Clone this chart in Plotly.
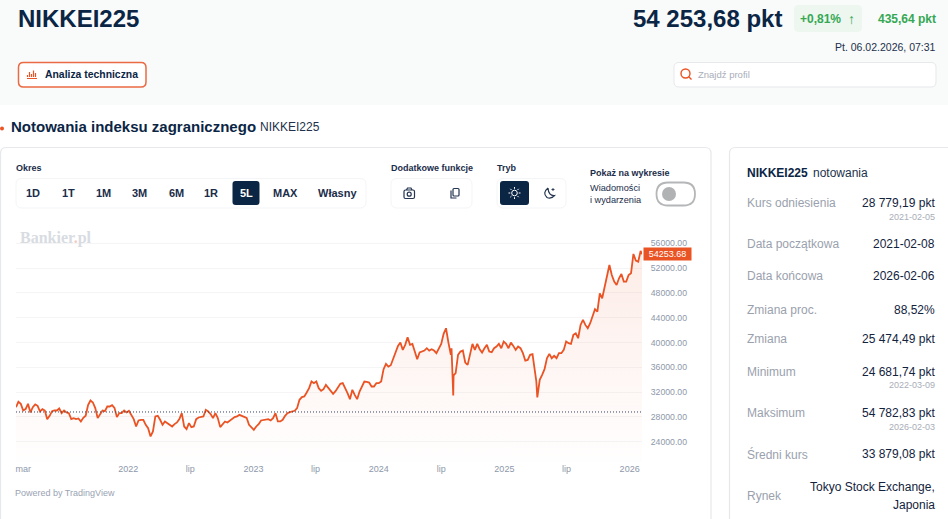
import pandas as pd
import plotly.graph_objects as go

W, H = 948, 519

# ---------- chart data ----------
WEEK_START = "2021-02-08"
WEEKLY_CLOSE = [
    29557, 30417, 30095, 29019, 29234, 30095, 28697, 29557, 29987, 29772,
    28858, 29234, 29019, 27621, 28159, 28912, 29019, 29019, 29342, 28589,
    29019, 28697, 28589, 27621, 27783, 27621, 27729, 27245, 27836, 28159,
    29879, 30632, 30310, 29395, 27783, 28481, 29019, 28912, 29664, 29664,
    29879, 29449, 27944, 28589, 28589, 29019, 28697, 28965, 28320, 27621,
    26438, 27406, 27514, 27514, 26707, 26169, 24825, 25632, 28051, 28159,
    27514, 26707, 27245, 26976, 26707,
    26438, 26815, 27083, 27621, 28589, 26438, 26008, 26976, 26331, 26438,
    27621, 27890, 27944, 28051, 29127, 28858, 28428, 27783, 28589, 27783,
    26331, 26707, 27245, 27083, 27406, 27621, 27944, 28051, 28320, 28159,
    27944, 27836, 26707, 26331, 25900, 26438, 26815, 27406, 27514, 27621,
    27621, 27406, 27783, 28589, 27245, 27245, 27514, 28159, 28589, 28750,
    28804, 28965, 29395, 30740, 31170, 31278, 31923, 32622, 33697, 33428,
    33697, 32622, 32192, 32460, 33159, 32621, 32083, 31707, 32137, 32783,
    33320, 33428, 32729, 31815, 30847, 32352, 31546, 30847, 32083, 32783,
    33696, 33643, 33535, 32890, 32890, 33428, 33428, 33696, 35686, 36546,
    36116, 36331, 37460, 38375, 39450, 39988, 38805, 39611, 40848, 39611,
    39773, 38536, 37299, 38375, 38536, 38697, 39073, 38697, 38912, 38697,
    38267, 39073, 39773, 41386, 42300, 39988, 37998, 31458, 35041, 37998,
    38536, 38697, 36761, 36385, 37998, 39773, 38805, 39773, 38912, 38375,
    39073, 39611, 38536, 38428, 39073, 39342, 39773, 39073, 40149, 39773,
    39073, 39988, 39450, 38805, 39342, 39073, 38267, 37084, 37192, 37998,
    38106, 35578, 31136, 33965, 34772, 35686, 37460, 38159, 37460, 37837,
    37460, 38267, 38267, 38805, 40149,
    39879, 39772, 41224, 41492, 40686, 42837, 43643, 42837, 42299, 43106,
    44074, 45364, 44987, 47945, 47138, 49020, 50902, 52515, 50902, 49827,
    49289, 50364, 51063, 49827, 49827, 50902, 51171, 54290, 53214, 53052,
    54782,
]
EXTRA_DATES = ["2024-07-31", "2024-08-02", "2024-08-06", "2025-04-04", "2025-04-09", "2026-02-06"]
EXTRA_CLOSE = [39073, 35909, 34675, 33780, 32000, 54253.68]
REFERENCE_LEVEL = 28779.19
LAST_LABEL = "54253.68"

X_TICK_DATES = ["2021-03-01", "2022-01-01", "2022-07-01", "2023-01-01", "2023-07-01",
                "2024-01-01", "2024-07-01", "2025-01-01", "2025-07-01", "2026-01-01"]
X_TICK_TEXT = ["mar", "2022", "lip", "2023", "lip", "2024", "lip", "2025", "lip", "2026"]
Y_TICKS = [24000, 28000, 32000, 36000, 40000, 44000, 48000, 52000, 56000]

PERIODS = ["1D", "1T", "1M", "3M", "6M", "1R", "5L", "MAX", "Własny"]
PERIOD_X = [33, 68, 103, 139, 176, 211, 246, 285, 337]

ROW_LABELS = ["Kurs odniesienia", "Data początkowa", "Data końcowa", "Zmiana proc.", "Zmiana",
              "Minimum", "Maksimum", "Średni kurs"]
ROW_VALUES = ["28 779,19 pkt", "2021-02-08", "2026-02-06", "88,52%", "25 474,49 pkt",
              "24 681,74 pkt", "54 782,83 pkt", "33 879,08 pkt"]
ROW_Y = [202.5, 244, 276, 310, 338.7, 371.7, 412.7, 454]
ROW_DATES = ["2021-02-05", "2022-03-09", "2026-02-03"]
ROW_DATES_Y = [216.5, 385.3, 427.3]

# ---------- colours ----------
NAVY = "#0b2545"
ORANGE = "#ea5323"
GREEN = "#34a853"
AXIS = "#8e98aa"
FONT = "Liberation Sans"


def fx(x):
    return x / W


def fy(y):
    return 1 - y / H


shapes, notes = [], []


def path(*cmds, fill=None, line=None, lw=1, layer="below"):
    out = []
    i = 0
    while i < len(cmds):
        c = cmds[i]
        if c == "Z":
            out.append("Z")
            i += 1
            continue
        n = {"M": 2, "L": 2, "Q": 4}[c]
        pts = cmds[i + 1:i + 1 + n]
        coords = " ".join(f"{fx(pts[k]):.5f},{fy(pts[k + 1]):.5f}" for k in range(0, n, 2))
        out.append(f"{c} {coords}")
        i += 1 + n
    shapes.append(dict(type="path", xref="paper", yref="paper", path=" ".join(out),
                       fillcolor=fill or "rgba(0,0,0,0)",
                       line=dict(color=line or "rgba(0,0,0,0)", width=lw if line else 0),
                       layer=layer))


def rr(x0, y0, x1, y1, r, fill=None, line=None, lw=1):
    path("M", x0 + r, y0, "L", x1 - r, y0, "Q", x1, y0, x1, y0 + r, "L", x1, y1 - r,
         "Q", x1, y1, x1 - r, y1, "L", x0 + r, y1, "Q", x0, y1, x0, y1 - r,
         "L", x0, y0 + r, "Q", x0, y0, x0 + r, y0, "Z", fill=fill, line=line, lw=lw)


def circ(cx, cy, r, fill=None, line=None, lw=1):
    shapes.append(dict(type="circle", xref="paper", yref="paper",
                       x0=fx(cx - r), x1=fx(cx + r), y0=fy(cy + r), y1=fy(cy - r),
                       fillcolor=fill or "rgba(0,0,0,0)",
                       line=dict(color=line or "rgba(0,0,0,0)", width=lw if line else 0),
                       layer="below"))


def text(x, y, s, size, color=NAVY, bold=False, anchor="left", family=FONT):
    dx = {"left": -1.2, "right": 1, "center": 0}[anchor]
    notes.append(dict(xref="paper", yref="paper", x=fx(x + dx), y=fy(y), showarrow=False,
                      text=f"<b>{s}</b>" if bold else s, xanchor=anchor, yanchor="middle",
                      font=dict(size=size, color=color, family=family), borderpad=0, align=anchor))


# ---------- page chrome ----------
rr(-10, -10, W + 10, 105, 7, fill="#f9fafa")
text(18, 18.5, "NIKKEI225", 24, bold=True)
text(782, 18.5, "54 253,68 pkt", 24, bold=True, anchor="right")
rr(794, 5, 862, 32, 5, fill="#edf6ef")
text(800, 19, "+0,81%", 12, GREEN, bold=True)
text(851, 19, "↑", 14, GREEN, bold=True, anchor="center")
text(936, 19, "435,64 pkt", 12, GREEN, bold=True, anchor="right")
text(936, 47, "Pt. 06.02.2026, 07:31", 10.5, "#22314b", anchor="right")

rr(18.5, 62.5, 146, 87, 5, fill="#ffffff", line="#ea6a43", lw=1.5)
for bx, top in zip([27.5, 29.5, 31.5, 33.5, 35.5], [75, 72, 74, 70.5, 73]):
    path("M", bx, 77, "L", bx, top, line=ORANGE, lw=1.2)
path("M", 27, 78.5, "L", 37, 78.5, line=ORANGE, lw=1)
text(45, 74.5, "Analiza techniczna", 10.4, bold=True)

rr(674, 62.5, 936, 87, 5, fill="#ffffff", line="#e6e8eb")
circ(685.5, 73.5, 4.5, line=ORANGE, lw=1.4)
path("M", 688.8, 76.8, "L", 691.5, 79.5, line=ORANGE, lw=1.4)
text(698.5, 74.5, "Znajdź profil", 9.5, "#a9aeb8", bold=False)

circ(2, 128.5, 2, fill=ORANGE)
text(11, 126, "Notowania indeksu zagranicznego", 15, bold=True)
text(260, 127, "NIKKEI225", 12, "#22314b")

# chart card
rr(0.5, 147.5, 711, 540, 6, fill="#ffffff", line="#e6e8eb", lw=1.2)
text(16, 168.5, "Okres", 9, "#1b2d4a", bold=True)
rr(16, 178.5, 366, 208, 6, fill="#ffffff", line="#f4f5f7")
rr(232.5, 181, 259.5, 205, 3, fill=NAVY)
for label, px in zip(PERIODS, PERIOD_X):
    text(px, 193.5, label, 11, "#ffffff" if label == "5L" else "#1b2d4a", bold=True, anchor="center")

text(391, 168.5, "Dodatkowe funkcje", 9, "#1b2d4a", bold=True)
rr(391, 178.5, 472, 208, 6, fill="#ffffff", line="#f4f5f7")
rr(404, 190, 414.5, 198.5, 1.5, line="#25354f", lw=1.2)
path("M", 406.5, 190, "L", 407.5, 188, "L", 411, 188, "L", 412, 190, line="#25354f", lw=1.2)
circ(409.2, 194.2, 2, line="#25354f", lw=1.2)
rr(453, 188.5, 459, 196, 1, line="#25354f", lw=1.2)
path("M", 451, 190.5, "L", 451, 198, "L", 456.5, 198, line="#25354f", lw=1.2)

text(497, 168.5, "Tryb", 9, "#1b2d4a", bold=True)
rr(497, 178.5, 566, 208, 6, fill="#ffffff", line="#f4f5f7")
rr(500, 181, 529, 205, 3, fill=NAVY)
circ(514.5, 193, 2.8, line="#ffffff", lw=1)
for a, b, c, d in [(514.5, 187, 514.5, 188.8), (514.5, 197.2, 514.5, 199), (508.5, 193, 510.3, 193),
                   (518.7, 193, 520.5, 193), (510.3, 188.8, 511.5, 190), (517.5, 196, 518.7, 197.2),
                   (518.7, 188.8, 517.5, 190), (511.5, 196, 510.3, 197.2)]:
    path("M", a, b, "L", c, d, line="#ffffff", lw=1)
path("M", 548, 188, "Q", 542, 193, 547, 197.5, "Q", 551, 199.5, 554.5, 195.5, "Q", 548.5, 196, 548, 188,
     line="#25354f", lw=1.2)
path("M", 553, 188, "L", 553, 191, "M", 551.5, 189.5, "L", 554.5, 189.5, line="#25354f", lw=0.9)

text(590, 172.5, "Pokaż na wykresie", 9, "#1b2d4a", bold=True)
text(590, 187.5, "Wiadomości", 9.2, "#1b2d4a")
text(590, 199.5, "i wydarzenia", 9.2, "#1b2d4a")
rr(656.5, 182.5, 695, 205.5, 11.5, fill="#ffffff", line="#b4b6b8", lw=1.8)
circ(669, 194, 7, fill="#b0b2b4")

text(20, 237.5, "Bankier<span style='color:#f2c9bc'>.</span>pl", 16, "#d8dce2", bold=True, family="Liberation Serif")
text(15.5, 493, "Powered by TradingView", 9, "#9aa3b3")

# side card
rr(729.5, 147.5, 970, 540, 6, fill="#ffffff", line="#e6e8eb", lw=1.2)
text(747.5, 173, "NIKKEI225", 12, bold=True)
text(813, 173, "notowania", 12, "#22314b")
for label, value, y in zip(ROW_LABELS, ROW_VALUES, ROW_Y):
    text(747.5, y, label, 12, "#9aa1ad")
    text(935, y, value, 12, "#13233d", anchor="right")
for d, y in zip(ROW_DATES, ROW_DATES_Y):
    text(935, y, d, 9, "#a9aeb8", anchor="right")
text(747.5, 496, "Rynek", 12, "#9aa1ad")
text(935, 487, "Tokyo Stock Exchange,", 12, "#13233d", anchor="right")
text(935, 505, "Japonia", 12, "#13233d", anchor="right")

# ---------- chart ----------
series = pd.concat([
    pd.Series(WEEKLY_CLOSE, index=pd.date_range(WEEK_START, periods=len(WEEKLY_CLOSE), freq="7D")),
    pd.Series(EXTRA_CLOSE, index=pd.to_datetime(EXTRA_DATES)),
]).sort_index()

fig = go.Figure()
fig.add_trace(go.Scatter(
    x=series.index, y=series.values, mode="lines",
    line=dict(color=ORANGE, width=1.8),
    fill="tozeroy",
    fillgradient=dict(type="vertical", start=54782, stop=20700,
                      colorscale=[[0, "rgba(234,83,35,0.11)"], [1, "rgba(234,83,35,0.005)"]]),
    hoverinfo="skip", showlegend=False,
))
fig.add_trace(go.Scatter(
    x=[series.index[0], series.index[-1]], y=[REFERENCE_LEVEL, REFERENCE_LEVEL], mode="lines",
    line=dict(color="#2f4063", width=1, dash="1px,2px"), hoverinfo="skip", showlegend=False,
))

notes.append(dict(xref="paper", yref="y", x=fx(667), y=float(series.values[-1]), text=LAST_LABEL,
                  showarrow=False, xanchor="center", yanchor="middle", width=47, height=12,
                  bgcolor=ORANGE, font=dict(size=9, color="#ffffff", family=FONT), borderpad=0))

fig.update_layout(
    width=W, height=H, autosize=False, margin=dict(l=0, r=0, t=0, b=0),
    paper_bgcolor="#ffffff", plot_bgcolor="rgba(0,0,0,0)",
    shapes=shapes, annotations=notes, showlegend=False,
    xaxis=dict(domain=[fx(16), fx(642)], type="date", range=[series.index[0], series.index[-1]],
               tickmode="array", tickvals=X_TICK_DATES, ticktext=X_TICK_TEXT, showgrid=False,
               zeroline=False, showline=False, ticks="", 
               tickfont=dict(size=9, color=AXIS, family=FONT), fixedrange=True),
    yaxis=dict(domain=[fy(462), fy(232)], range=[20700, 57840], side="right",
               tickmode="array", tickvals=Y_TICKS, tickformat=".2f",
               gridcolor="#f5f5f6", gridwidth=1, zeroline=False, showline=False,
               ticks="outside", ticklen=6, tickcolor="rgba(0,0,0,0)",
               tickfont=dict(size=8.7, color=AXIS, family=FONT), fixedrange=True),
)

fig.write_html("out.html", config=dict(displayModeBar=False),
               post_script="document.body.style.margin='0';document.body.style.overflow='hidden';")
